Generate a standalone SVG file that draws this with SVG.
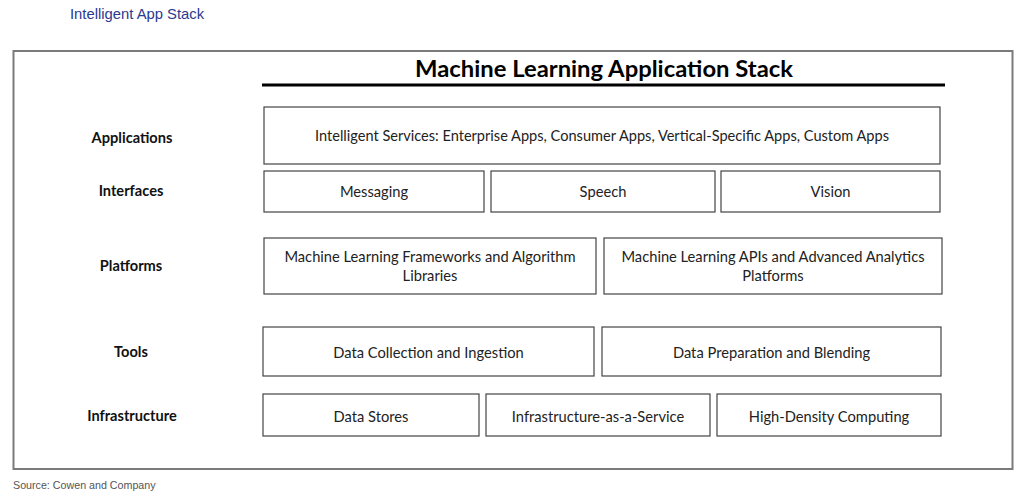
<svg xmlns="http://www.w3.org/2000/svg" width="1024" height="497" viewBox="0 0 1024 497">
<style>
.box{fill:#fff;stroke:#444;stroke-width:1.2}
.t{font-family:Lato,"Open Sans",sans-serif;font-size:14.7px;fill:#222;text-anchor:middle}
.lbl{font-family:Lato,"Open Sans",sans-serif;font-size:14.6px;font-weight:bold;fill:#111;text-anchor:middle}
</style>
<rect width="1024" height="497" fill="#fff"/>
<text x="70" y="19" font-family="Liberation Sans,Arial,sans-serif" font-size="14.8" fill="#2b3990">Intelligent App Stack</text>
<rect id="frame" x="13.5" y="51" width="999" height="418" fill="none" stroke="#7a7a7a" stroke-width="2"/>
<g id="title">
<text x="604" y="77" font-family="Lato,'Open Sans',sans-serif" font-size="23" font-weight="bold" fill="#000" text-anchor="middle" textLength="378" lengthAdjust="spacingAndGlyphs">Machine Learning Application Stack</text>
<line x1="262" y1="85" x2="945" y2="85" stroke="#000" stroke-width="3"/>
</g>
<g id="labels">
<text class="lbl" x="132" y="143">Applications</text>
<text class="lbl" x="131" y="196">Interfaces</text>
<text class="lbl" x="131" y="271">Platforms</text>
<text class="lbl" x="131" y="357">Tools</text>
<text class="lbl" x="132" y="421">Infrastructure</text>
</g>
<g id="applications">
<rect class="box" x="264" y="107" width="676" height="57"/>
<text class="t" x="602" y="141" textLength="574" lengthAdjust="spacingAndGlyphs">Intelligent Services: Enterprise Apps, Consumer Apps, Vertical-Specific Apps, Custom Apps</text>
</g>
<g id="messaging">
<rect class="box" x="264" y="171" width="220" height="41"/>
<text class="t" x="374" y="197">Messaging</text>
</g>
<g id="speech">
<rect class="box" x="491" y="171" width="224" height="41"/>
<text class="t" x="603" y="197">Speech</text>
</g>
<g id="vision">
<rect class="box" x="721" y="171" width="219" height="41"/>
<text class="t" x="830.5" y="197">Vision</text>
</g>
<g id="ml-frameworks">
<rect class="box" x="264" y="238" width="332" height="56"/>
<text class="t" x="430" y="262">Machine Learning Frameworks and Algorithm</text>
<text class="t" x="430" y="281">Libraries</text>
</g>
<g id="ml-apis">
<rect class="box" x="604" y="238" width="338" height="56"/>
<text class="t" x="773" y="262">Machine Learning APIs and Advanced Analytics</text>
<text class="t" x="773" y="281">Platforms</text>
</g>
<g id="data-collection">
<rect class="box" x="263" y="327" width="331" height="49"/>
<text class="t" x="428.5" y="358">Data Collection and Ingestion</text>
</g>
<g id="data-preparation">
<rect class="box" x="602" y="327" width="339" height="49"/>
<text class="t" x="771.5" y="358">Data Preparation and Blending</text>
</g>
<g id="data-stores">
<rect class="box" x="263" y="394" width="216" height="42"/>
<text class="t" x="371" y="422">Data Stores</text>
</g>
<g id="iaas">
<rect class="box" x="486" y="394" width="224" height="42"/>
<text class="t" x="598" y="422">Infrastructure-as-a-Service</text>
</g>
<g id="hdc">
<rect class="box" x="717" y="394" width="224" height="42"/>
<text class="t" x="829" y="422">High-Density Computing</text>
</g>
<g id="connectors"></g>
<text x="13" y="489" font-family="Liberation Sans,Arial,sans-serif" font-size="10.7" fill="#555">Source: Cowen and Company</text>
</svg>
